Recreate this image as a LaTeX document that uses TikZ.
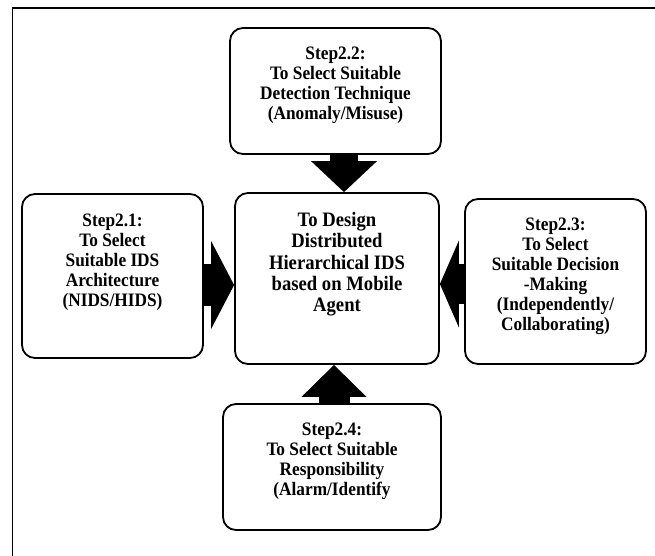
\documentclass[tikz,border=0pt]{standalone}
\usepackage{fontspec}
\setmainfont{Liberation Serif}[FakeStretch=0.91]
\usetikzlibrary{positioning,arrows.meta,calc}

\begin{document}
\begin{tikzpicture}[x=1pt,y=-1pt,
                  sbox/.style={draw,rounded corners=13pt,line width=1.8pt,inner sep=0pt},
                  txt/.style={align=center,inner sep=0pt,font=\fontsize{19}{20}\selectfont\bfseries},
                  blk/.style n args={3}{line width=#1,-{Triangle[width=#2,length=#3,line width=0pt]}}
                ]
                \useasboundingbox (0,0) rectangle (655,555);
                \clip (0,0) rectangle (655,555);
                \draw[line width=1.4pt] (12.5,580) |- (680,8);

                \node[sbox,minimum width=211pt,minimum height=126pt] (s22) at (335.5,91) {};
                \node[sbox,minimum width=204pt,minimum height=171pt] (core) at (337,278.5) {};
                \node[sbox,minimum width=181pt,minimum height=164pt] (s21) at (112.5,276) {};
                \node[sbox,minimum width=181pt,minimum height=165pt] (s23) at (555.5,281.5) {};
                \node[sbox,minimum width=218pt,minimum height=126pt] (s24) at (332,467) {};

                \node[txt,below=20pt of s22.north] (t22) {Step2.2:\\To Select Suitable\\Detection Technique\\(Anomaly/Misuse)};
                \node[txt,font=\fontsize{20.5}{21.3}\selectfont\bfseries,below=20pt of core.north] (tcore) {To Design\\Distributed\\Hierarchical IDS\\based on Mobile\\Agent};
                \node[txt,below=21pt of s21.north] (t21) {Step2.1:\\To Select\\Suitable IDS\\Architecture\\(NIDS/HIDS)};
                \node[txt,below=20pt of s23.north] (t23) {Step2.3:\\To Select\\Suitable Decision\\-Making\\(Independently/\\Collaborating)};
                \node[txt,below=20pt of s24.north] (t24) {Step2.4:\\To Select Suitable\\Responsibility\\(Alarm/Identify};

                \draw[blk={28pt}{66pt}{31pt}] ([xshift=8.5pt]s22.south) -- ([xshift=8.5pt]s22.south |- core.north);
                \draw[blk={31pt}{65pt}{32pt}] ([xshift=2pt]s24.north) -- ([xshift=2pt]s24.north |- core.south);
                \draw[blk={42pt}{88pt}{23pt}] ([yshift=-9pt]s21.east) -- ([yshift=-9pt]s21.east -| core.west);
                \draw[blk={40pt}{87pt}{19pt}] ([yshift=-2.5pt]s23.west) -- ([yshift=-2.5pt]s23.west -| core.east);
                \end{tikzpicture}
\end{document}
